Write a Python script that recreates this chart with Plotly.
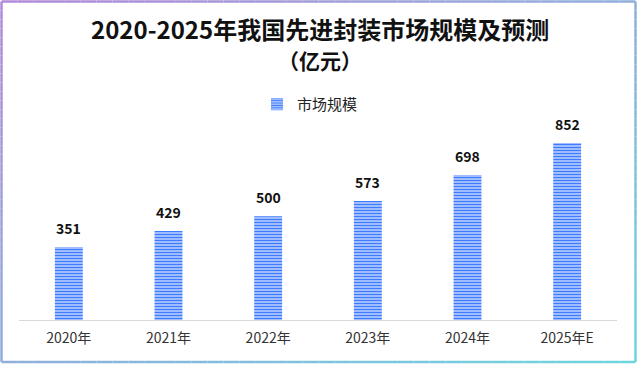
import plotly.graph_objects as go

categories = ["2020年", "2021年", "2022年", "2023年", "2024年", "2025年E"]
values = [351, 429, 500, 573, 698, 852]
series_name = "市场规模"
title_line1 = "2020-2025年我国先进封装市场规模及预测"
title_line2 = "（亿元）"

W, H = 639, 365
ML, MR, MT, MB = 19, 22, 80, 45
PW, PH = W - ML - MR, H - MT - MB
YMAX = PH / 0.2077

FONT = "Noto Sans CJK SC"

fig = go.Figure()
fig.add_trace(go.Bar(
    x=categories, y=values, name=series_name,
    marker=dict(color="#dfe8ff", line=dict(width=0),
                pattern=dict(shape="-", fgcolor="#3d7bff", bgcolor="#dfe8ff",
                             size=3, solidity=0.6, fillmode="replace")),
    showlegend=True,
))

for c, v in zip(categories, values):
    fig.add_annotation(x=c, y=v, text=f"<b>{v}</b>", showarrow=False,
                       yshift=19, font=dict(family=FONT, size=14, color="#111"))

# title (two lines as separate texts)
fig.add_annotation(xref="paper", yref="paper", x=(320 - ML) / PW,
                   y=(H - MB - 28) / PH, yanchor="middle", xanchor="center",
                   text=f"<b>{title_line1}</b>", showarrow=False, borderpad=0,
                   font=dict(family=FONT, size=24, color="#111"))
fig.add_annotation(xref="paper", yref="paper", x=(320 - ML) / PW,
                   y=(H - MB - 60) / PH, yanchor="middle", xanchor="center",
                   text=f"<b>{title_line2}</b>", showarrow=False, borderpad=0,
                   font=dict(family=FONT, size=21, color="#111"))

# gradient border
def px2paper(px, py):
    return (px - ML) / PW, (H - MB - py) / PH

def grad(px, py):
    t = (px / W + py / H) / 2
    c0 = (178, 136, 216)
    c1 = (108, 214, 222)
    r, g, b = [round(a + (bb - a) * t) for a, bb in zip(c0, c1)]
    return f"rgb({r},{g},{b})"

x0b, x1b, y0b, y1b = 1.5, 635.5, 1.5, 362
N = 40
shapes = []
for i in range(N):
    for (ax, ay, bx, by) in [
        (x0b + (x1b - x0b) * i / N, y0b, x0b + (x1b - x0b) * (i + 1) / N, y0b),
        (x0b + (x1b - x0b) * i / N, y1b, x0b + (x1b - x0b) * (i + 1) / N, y1b),
        (x0b, y0b + (y1b - y0b) * i / N, x0b, y0b + (y1b - y0b) * (i + 1) / N),
        (x1b, y0b + (y1b - y0b) * i / N, x1b, y0b + (y1b - y0b) * (i + 1) / N),
    ]:
        p0 = px2paper(ax, ay)
        p1 = px2paper(bx, by)
        shapes.append(dict(type="line", xref="paper", yref="paper",
                           x0=p0[0], y0=p0[1], x1=p1[0], y1=p1[1],
                           line=dict(color=grad((ax + bx) / 2, (ay + by) / 2), width=2.5),
                           layer="above"))

fig.update_layout(
    width=W, height=H,
    margin=dict(l=ML, r=MR, t=MT, b=MB, autoexpand=False),
    paper_bgcolor="white", plot_bgcolor="white",
    legend=dict(orientation="h", x=0.5 - 8 / PW, xanchor="center",
                y=(H - MB - 88) / PH, yanchor="top",
                font=dict(family=FONT, size=15, color="#222"),
                bgcolor="rgba(0,0,0,0)", itemwidth=30),
    bargap=0.72,
    xaxis=dict(showgrid=False, showline=True, linecolor="#d9d9d9", linewidth=1,
               ticks="", tickfont=dict(family=FONT, size=14, color="#333"),
               ticklabelstandoff=5),
    yaxis=dict(range=[0, YMAX], visible=False, showgrid=False),
    shapes=shapes,
)

fig.write_html("out.html", config={"displayModeBar": False},
               post_script="document.body.style.margin='0';")
